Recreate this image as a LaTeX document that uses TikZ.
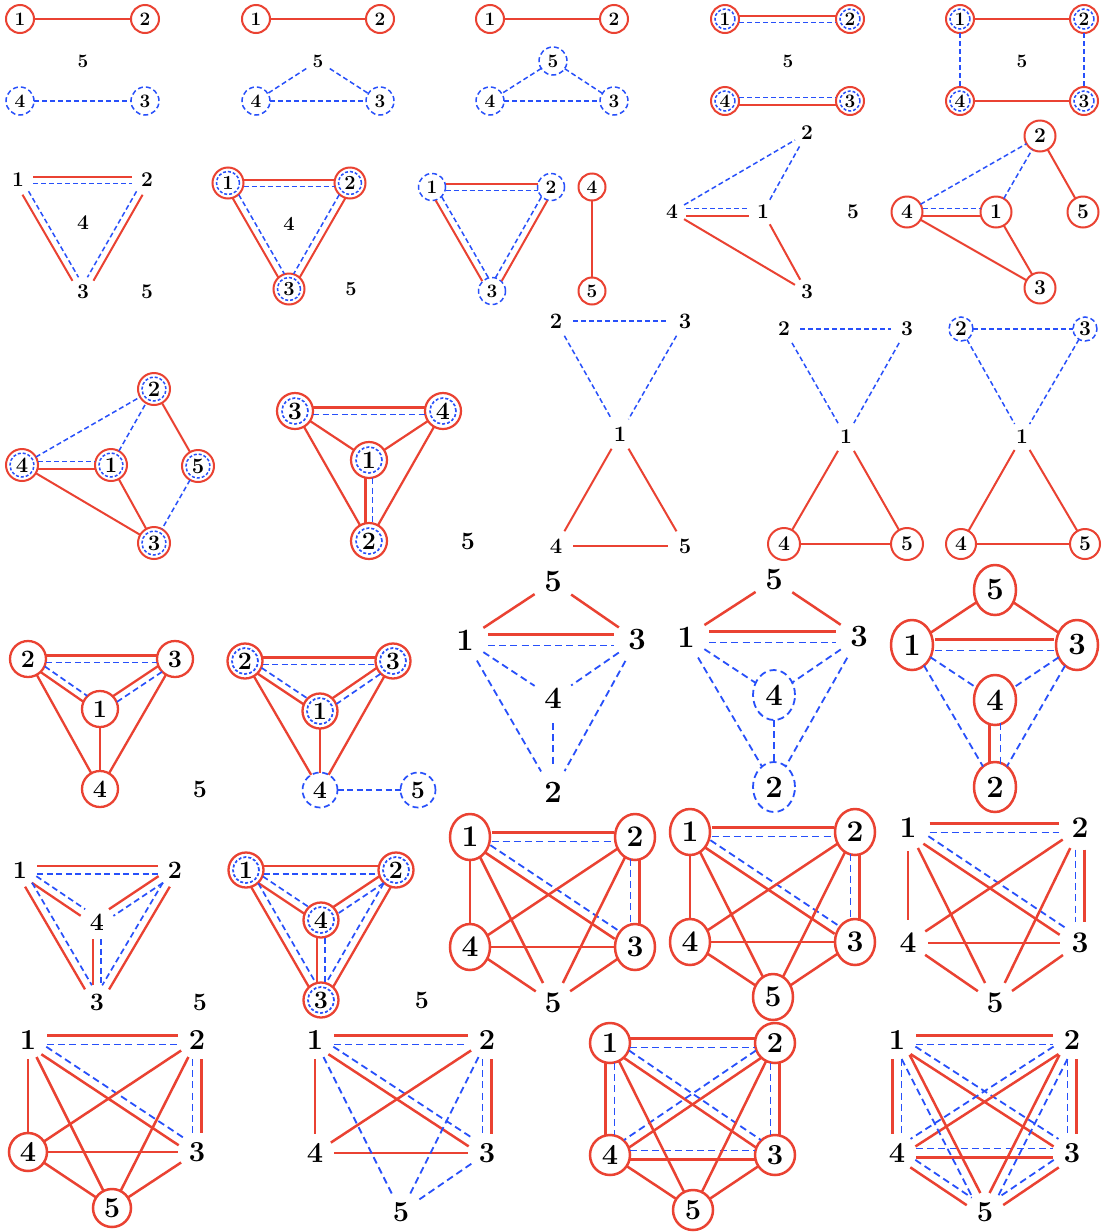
\documentclass[tikz,border=0pt]{standalone}
\usetikzlibrary{calc,shapes.geometric}
\definecolor{cR}{RGB}{234,66,50}
\definecolor{cB}{RGB}{40,80,250}
\newcommand\G[9]{%
  \def\gw{#1}\def\gh{#2}\def\gri{#3}\def\gfs{#4}\def\glr{#5}\def\glb{#6}\def\gsep{#7}\def\gshape{#8}\def\gdon{#9}%
  \pgfmathsetmacro\gsh{(#1+#2)/4}\pgfmathsetmacro\gdoff{0.6*#9}}
\tikzset{
  nb/.style={shape=\gshape, inner sep=0pt, outer sep=0pt, minimum width=\gw pt, minimum height=\gh pt, font=\fontsize{\gfs}{\gfs}\selectfont\bfseries},
  nP/.style={nb},
  nR/.style={nb, draw=cR, line width=\glr pt},
  nB/.style={nb, draw=cB, line width=\glb pt, dash pattern=on \gdon pt off \gdoff pt},
  nRB/.style={nR, path picture={\draw[cB, line width=\glb pt, dash pattern=on 3pt off 2pt] (path picture bounding box.center) circle[radius=\gri pt];}},
  er/.style={draw=cR, line width=\glr pt},
  eb/.style={draw=cB, line width=\glb pt, dash pattern=on \gdon pt off \gdoff pt},
}
% double edge: #3 = 1 -> red on the left of travel, -1 -> red on the right
\newcommand\dbl[3]{%
  \pgfmathsetmacro\ro{#3*\gsep}\pgfmathsetmacro\bo{-#3*\gsep}%
  \draw[er, shorten <=\gsh pt, shorten >=\gsh pt] ($(#1.center)!\ro pt!90:(#2.center)$) -- ($(#2.center)!\ro pt!-90:(#1.center)$);
  \draw[eb, shorten <=\gsh pt, shorten >=\gsh pt] ($(#1.center)!\bo pt!90:(#2.center)$) -- ($(#2.center)!\bo pt!-90:(#1.center)$);
}
\begin{document}
\begin{tikzpicture}[x=1pt,y=-1pt]
\useasboundingbox[fill=white] (0,0) rectangle (1105,1232);
% ---------------- row 1
\begin{scope}
\G{28}{28}{10}{19}{2}{1.5}{3.5}{circle}{5}
\node[nR] (A1) at (20,19) {1}; \node[nR] (A2) at (145,19) {2};
\node[nP] (A5) at (83,61) {5};
\node[nB] (A4) at (20,101) {4}; \node[nB] (A3) at (145,101) {3};
\draw[er] (A1)--(A2); \draw[eb] (A4)--(A3);
\node[nR] (B1) at (256,19) {1}; \node[nR] (B2) at (380,19) {2};
\node[nP] (B5) at (318,61) {5};
\node[nB] (B4) at (256,101) {4}; \node[nB] (B3) at (380,101) {3};
\draw[er] (B1)--(B2); \draw[eb] (B5)--(B4); \draw[eb] (B5)--(B3); \draw[eb] (B4)--(B3);
\node[nR] (C1) at (490,19) {1}; \node[nR] (C2) at (614,19) {2};
\node[nB] (C5) at (553,61) {5};
\node[nB] (C4) at (490,101) {4}; \node[nB] (C3) at (614,101) {3};
\draw[er] (C1)--(C2); \draw[eb] (C5)--(C4); \draw[eb] (C5)--(C3); \draw[eb] (C4)--(C3);
\node[nRB] (D1) at (725,19) {1}; \node[nRB] (D2) at (850,19) {2};
\node[nP] (D5) at (788,61) {5};
\node[nRB] (D4) at (725,101) {4}; \node[nRB] (D3) at (850,101) {3};
\dbl{D1}{D2}{1} \dbl{D4}{D3}{-1}
\node[nRB] (E1) at (960,19) {1}; \node[nRB] (E2) at (1084,19) {2};
\node[nP] (E5) at (1022,61) {5};
\node[nRB] (E4) at (960,101) {4}; \node[nRB] (E3) at (1084,101) {3};
\draw[er] (E1)--(E2); \draw[er] (E4)--(E3); \draw[eb] (E1)--(E4); \draw[eb] (E2)--(E3);
\end{scope}
% ---------------- row 2
\begin{scope}
\G{30}{30}{11}{21}{2}{1.5}{3.5}{circle}{5}
\node[nP] (F1) at (18,180) {1}; \node[nP] (F2) at (147,180) {2};
\node[nP] (F4) at (83,223) {4}; \node[nP] (F3) at (83,292) {3}; \node[nP] (F5) at (147,292) {5};
\dbl{F1}{F2}{1} \dbl{F1}{F3}{-1} \dbl{F2}{F3}{1}
\end{scope}
\begin{scope}
\G{31}{31}{11.5}{20}{2}{1.5}{3.5}{circle}{5}
\node[nRB] (G1) at (228,183) {1}; \node[nRB] (G2) at (350,183) {2};
\node[nP] (G4) at (289,224) {4}; \node[nRB] (G3) at (289,289) {3}; \node[nP] (G5) at (351,289) {5};
\dbl{G1}{G2}{1} \dbl{G1}{G3}{-1} \dbl{G2}{G3}{1}
\end{scope}
\begin{scope}
\G{27}{27}{10}{19}{2}{1.5}{3.5}{circle}{5}
\node[nB] (H1) at (432,187) {1}; \node[nB] (H2) at (551,187) {2};
\node[nB] (H3) at (492,291) {3}; \node[nR] (H4) at (592,187) {4}; \node[nR] (H5) at (592,291) {5};
\dbl{H1}{H2}{1} \dbl{H1}{H3}{-1} \dbl{H2}{H3}{1}
\draw[er] (H4)--(H5);
\end{scope}
\begin{scope}
\G{28}{28}{10}{21}{2}{1.5}{3.5}{circle}{5}
\node[nP] (I2) at (807,133) {2}; \node[nP] (I4) at (672,212) {4}; \node[nP] (I1) at (763,212) {1};
\node[nP] (I5) at (853,212) {5}; \node[nP] (I3) at (807,292) {3};
\draw[eb] (I4)--(I2); \draw[eb] (I1)--(I2); \dbl{I4}{I1}{-1}
\draw[er] (I4)--(I3); \draw[er] (I1)--(I3);
\end{scope}
\begin{scope}
\G{31}{31}{11}{21}{2}{1.5}{3.5}{circle}{5}
\node[nR] (J2) at (1040,136) {2}; \node[nR] (J4) at (907,212) {4}; \node[nR] (J1) at (996,212) {1};
\node[nR] (J5) at (1083,212) {5}; \node[nR] (J3) at (1040,288) {3};
\draw[eb] (J4)--(J2); \draw[eb] (J1)--(J2); \dbl{J4}{J1}{-1}
\draw[er] (J4)--(J3); \draw[er] (J1)--(J3); \draw[er] (J2)--(J5);
\end{scope}
% ---------------- row 3
\begin{scope}
\G{32}{32}{12}{22}{2}{1.5}{3.5}{circle}{5}
\node[nRB] (K2) at (154,389) {2}; \node[nRB] (K4) at (22,465) {4}; \node[nRB] (K1) at (111,465) {1};
\node[nRB] (K5) at (198,466) {5}; \node[nRB] (K3) at (154,543) {3};
\draw[eb] (K4)--(K2); \draw[eb] (K1)--(K2); \draw[eb] (K5)--(K3); \dbl{K4}{K1}{-1}
\draw[er] (K4)--(K3); \draw[er] (K1)--(K3); \draw[er] (K2)--(K5);
\end{scope}
\begin{scope}
\G{36}{36}{13}{25}{2.2}{1.6}{3.5}{circle}{6}
\node[nRB] (L3) at (295,411) {3}; \node[nRB] (L4) at (443,411) {4}; \node[nRB] (L1) at (369,460) {1};
\node[nRB] (L2) at (369,541) {2}; \node[nP] (L5) at (468,541) {5};
\dbl{L3}{L4}{1} \dbl{L1}{L2}{-1}
\draw[er] (L3)--(L1); \draw[er] (L4)--(L1); \draw[er] (L3)--(L2); \draw[er] (L4)--(L2);
\end{scope}
\begin{scope}
\G{34}{34}{12}{22}{2}{1.5}{3.5}{circle}{5}
\node[nP] (M2) at (556,321) {2}; \node[nP] (M3) at (685,321) {3}; \node[nP] (M1) at (620,434) {1};
\node[nP] (M4) at (556,546) {4}; \node[nP] (M5) at (685,546) {5};
\draw[eb] (M2)--(M3); \draw[eb] (M2)--(M1); \draw[eb] (M3)--(M1);
\draw[er] (M1)--(M4); \draw[er] (M1)--(M5); \draw[er] (M4)--(M5);
\end{scope}
\begin{scope}
\G{32}{32}{12}{21}{2}{1.5}{3.5}{circle}{5}
\node[nP] (N2) at (784,329) {2}; \node[nP] (N3) at (907,329) {3}; \node[nP] (N1) at (846,437) {1};
\node[nR] (N4) at (784,544) {4}; \node[nR] (N5) at (907,544) {5};
\draw[eb] (N2)--(N3); \draw[eb] (N2)--(N1); \draw[eb] (N3)--(N1);
\draw[er] (N1)--(N4); \draw[er] (N1)--(N5); \draw[er] (N4)--(N5);
\end{scope}
\begin{scope}
\G{30}{30}{11}{21}{2}{1.5}{3.5}{circle}{5}
\node[nB, minimum width=24pt, minimum height=24pt] (O2) at (961,329) {2};
\node[nB, minimum width=24pt, minimum height=24pt] (O3) at (1085,329) {3};
\node[nP] (O1) at (1022,437) {1};
\node[nR] (O4) at (961,544) {4}; \node[nR] (O5) at (1085,544) {5};
\draw[eb] (O2)--(O3); \draw[eb] (O2)--(O1); \draw[eb] (O3)--(O1);
\draw[er] (O1)--(O4); \draw[er] (O1)--(O5); \draw[er] (O4)--(O5);
\end{scope}
% ---------------- row 4
\begin{scope}
\G{36}{36}{13}{25}{2.3}{1.7}{3.5}{circle}{6}
\node[nR] (Q2) at (28,659) {2}; \node[nR] (Q3) at (175,659) {3}; \node[nR] (Q1) at (100,709) {1};
\node[nR] (Q4) at (100,789) {4}; \node[nP] (Q5) at (200,789) {5};
\dbl{Q2}{Q3}{1} \dbl{Q2}{Q1}{-1} \dbl{Q3}{Q1}{-1}
\draw[er] (Q2)--(Q4); \draw[er] (Q3)--(Q4); \draw[er] (Q1)--(Q4);
\end{scope}
\begin{scope}
\G{35}{35}{13}{25}{2.3}{1.7}{3.5}{circle}{6}
\node[nRB] (S2) at (245,661) {2}; \node[nRB] (S3) at (393,661) {3}; \node[nRB] (S1) at (320,711) {1};
\node[nB] (S4) at (320,790) {4}; \node[nB] (S5) at (418,790) {5};
\dbl{S2}{S3}{1} \dbl{S2}{S1}{-1} \dbl{S3}{S1}{-1}
\draw[er] (S2)--(S4); \draw[er] (S3)--(S4); \draw[er] (S1)--(S4); \draw[eb] (S4)--(S5);
\end{scope}
\begin{scope}
\G{42}{50}{14}{31}{2.5}{1.8}{5.5}{ellipse}{7}
\node[nP] (T5) at (553,582) {5}; \node[nP] (T1) at (465,640) {1}; \node[nP] (T3) at (637,640) {3};
\node[nP] (T4) at (553,698) {4}; \node[nP] (T2) at (553,792) {2};
\draw[er] (T5)--(T1); \draw[er] (T5)--(T3); \dbl{T1}{T3}{1}
\draw[eb] (T1)--(T4); \draw[eb] (T3)--(T4); \draw[eb] (T1)--(T2); \draw[eb] (T3)--(T2); \draw[eb] (T4)--(T2);
\node[nP] (U5) at (774,580) {5}; \node[nP] (U1) at (686,637) {1}; \node[nP] (U3) at (859,637) {3};
\node[nB] (U4) at (774,695) {4}; \node[nB] (U2) at (774,787) {2};
\draw[er] (U5)--(U1); \draw[er] (U5)--(U3); \dbl{U1}{U3}{1}
\draw[eb] (U1)--(U4); \draw[eb] (U3)--(U4); \draw[eb] (U1)--(U2); \draw[eb] (U3)--(U2); \draw[eb] (U4)--(U2);
\node[nR] (V5) at (995,590) {5}; \node[nR] (V1) at (912,645) {1}; \node[nR] (V3) at (1077,645) {3};
\node[nR] (V4) at (995,700) {4}; \node[nR] (V2) at (995,787) {2};
\draw[er] (V5)--(V1); \draw[er] (V5)--(V3); \dbl{V1}{V3}{1}
\draw[eb] (V1)--(V4); \draw[eb] (V3)--(V4); \draw[eb] (V1)--(V2); \draw[eb] (V3)--(V2); \dbl{V4}{V2}{-1}
\end{scope}
% ---------------- row 5
\begin{scope}
\G{34}{34}{12}{25}{2.3}{1.7}{4}{circle}{6}
\node[nP] (W1) at (20,870) {1}; \node[nP] (W2) at (175,870) {2}; \node[nP] (W4) at (97,922) {4};
\node[nP] (W3) at (97,1002) {3}; \node[nP] (W5) at (200,1002) {5};
\dbl{W1}{W2}{1} \dbl{W1}{W4}{-1} \dbl{W2}{W4}{-1} \dbl{W1}{W3}{-1} \dbl{W2}{W3}{1} \dbl{W4}{W3}{-1}
\end{scope}
\begin{scope}
\G{35}{35}{13}{25}{2.3}{1.7}{4}{circle}{6}
\node[nRB] (X1) at (246,870) {1}; \node[nRB] (X2) at (396,870) {2}; \node[nRB] (X4) at (321,920) {4};
\node[nRB] (X3) at (321,1000) {3}; \node[nP] (X5) at (422,1000) {5};
\dbl{X1}{X2}{1} \dbl{X1}{X4}{-1} \dbl{X2}{X4}{-1} \dbl{X1}{X3}{-1} \dbl{X2}{X3}{1} \dbl{X4}{X3}{-1}
\end{scope}
\begin{scope}
\G{40}{46}{14}{30}{2.5}{1.8}{4.5}{ellipse}{7}
\node[nR] (Y1) at (470,837) {1}; \node[nR] (Y2) at (635,837) {2}; \node[nR] (Y4) at (470,947) {4};
\node[nR] (Y3) at (635,947) {3}; \node[nP] (Y5) at (553,1003) {5};
\dbl{Y1}{Y2}{1} \dbl{Y1}{Y3}{-1} \dbl{Y2}{Y3}{1}
\draw[er] (Y1)--(Y4); \draw[er] (Y2)--(Y4); \draw[er] (Y4)--(Y3);
\draw[er] (Y1)--(Y5); \draw[er] (Y2)--(Y5); \draw[er] (Y4)--(Y5); \draw[er] (Y3)--(Y5);
\node[nR] (Z1) at (690,832) {1}; \node[nR] (Z2) at (855,832) {2}; \node[nR] (Z4) at (690,942) {4};
\node[nR] (Z3) at (855,942) {3}; \node[nR] (Z5) at (773,997) {5};
\dbl{Z1}{Z2}{1} \dbl{Z1}{Z3}{-1} \dbl{Z2}{Z3}{1}
\draw[er] (Z1)--(Z4); \draw[er] (Z2)--(Z4); \draw[er] (Z4)--(Z3);
\draw[er] (Z1)--(Z5); \draw[er] (Z2)--(Z5); \draw[er] (Z4)--(Z5); \draw[er] (Z3)--(Z5);
\node[nP] (AA1) at (908,828) {1}; \node[nP] (AA2) at (1080,828) {2}; \node[nP] (AA4) at (908,943) {4};
\node[nP] (AA3) at (1080,943) {3}; \node[nP] (AA5) at (995,1003) {5};
\dbl{AA1}{AA2}{1} \dbl{AA1}{AA3}{-1} \dbl{AA2}{AA3}{1}
\draw[er] (AA1)--(AA4); \draw[er] (AA2)--(AA4); \draw[er] (AA4)--(AA3);
\draw[er] (AA1)--(AA5); \draw[er] (AA2)--(AA5); \draw[er] (AA4)--(AA5); \draw[er] (AA3)--(AA5);
\end{scope}
% ---------------- row 6
\begin{scope}
\G{38}{38}{14}{29}{2.5}{1.8}{4.5}{circle}{7}
\node[nP] (AB1) at (28,1040) {1}; \node[nP] (AB2) at (197,1040) {2}; \node[nR] (AB4) at (28,1152) {4};
\node[nP] (AB3) at (197,1152) {3}; \node[nR] (AB5) at (112,1208) {5};
\dbl{AB1}{AB2}{1} \dbl{AB1}{AB3}{-1} \dbl{AB2}{AB3}{1}
\draw[er] (AB1)--(AB4); \draw[er] (AB2)--(AB4); \draw[er] (AB4)--(AB3);
\draw[er] (AB1)--(AB5); \draw[er] (AB2)--(AB5); \draw[er] (AB4)--(AB5); \draw[er] (AB3)--(AB5);
\node[nP] (AC1) at (315,1040) {1}; \node[nP] (AC2) at (487,1040) {2}; \node[nP] (AC4) at (315,1153) {4};
\node[nP] (AC3) at (487,1153) {3}; \node[nP] (AC5) at (401,1212) {5};
\dbl{AC1}{AC2}{1} \dbl{AC1}{AC3}{-1} \dbl{AC2}{AC3}{1}
\draw[er] (AC1)--(AC4); \draw[er] (AC4)--(AC2); \draw[er] (AC4)--(AC3);
\draw[eb] (AC1)--(AC5); \draw[eb] (AC2)--(AC5); \draw[eb] (AC3)--(AC5);
\end{scope}
\begin{scope}
\G{40}{40}{14}{29}{2.5}{1.8}{4.5}{circle}{7}
\node[nR] (AD1) at (610,1043) {1}; \node[nR] (AD2) at (775,1043) {2}; \node[nR] (AD4) at (610,1155) {4};
\node[nR] (AD3) at (775,1155) {3}; \node[nR] (AD5) at (693,1210) {5};
\dbl{AD1}{AD2}{1} \dbl{AD1}{AD4}{-1} \dbl{AD2}{AD3}{1} \dbl{AD4}{AD3}{-1} \dbl{AD1}{AD3}{-1} \dbl{AD2}{AD4}{1}
\draw[er] (AD1)--(AD5); \draw[er] (AD2)--(AD5); \draw[er] (AD4)--(AD5); \draw[er] (AD3)--(AD5);
\end{scope}
\begin{scope}
\G{38}{38}{14}{29}{2.5}{1.8}{4.5}{circle}{7}
\node[nP] (AE1) at (897,1040) {1}; \node[nP] (AE2) at (1072,1040) {2}; \node[nP] (AE4) at (897,1153) {4};
\node[nP] (AE3) at (1072,1153) {3}; \node[nP] (AE5) at (985,1212) {5};
\dbl{AE1}{AE2}{1} \dbl{AE1}{AE4}{-1} \dbl{AE2}{AE3}{1} \dbl{AE4}{AE3}{-1} \dbl{AE1}{AE3}{-1} \dbl{AE2}{AE4}{1}
\dbl{AE1}{AE5}{1} \dbl{AE2}{AE5}{-1} \dbl{AE4}{AE5}{-1} \dbl{AE3}{AE5}{1}
\end{scope}
\end{tikzpicture}
\end{document}
